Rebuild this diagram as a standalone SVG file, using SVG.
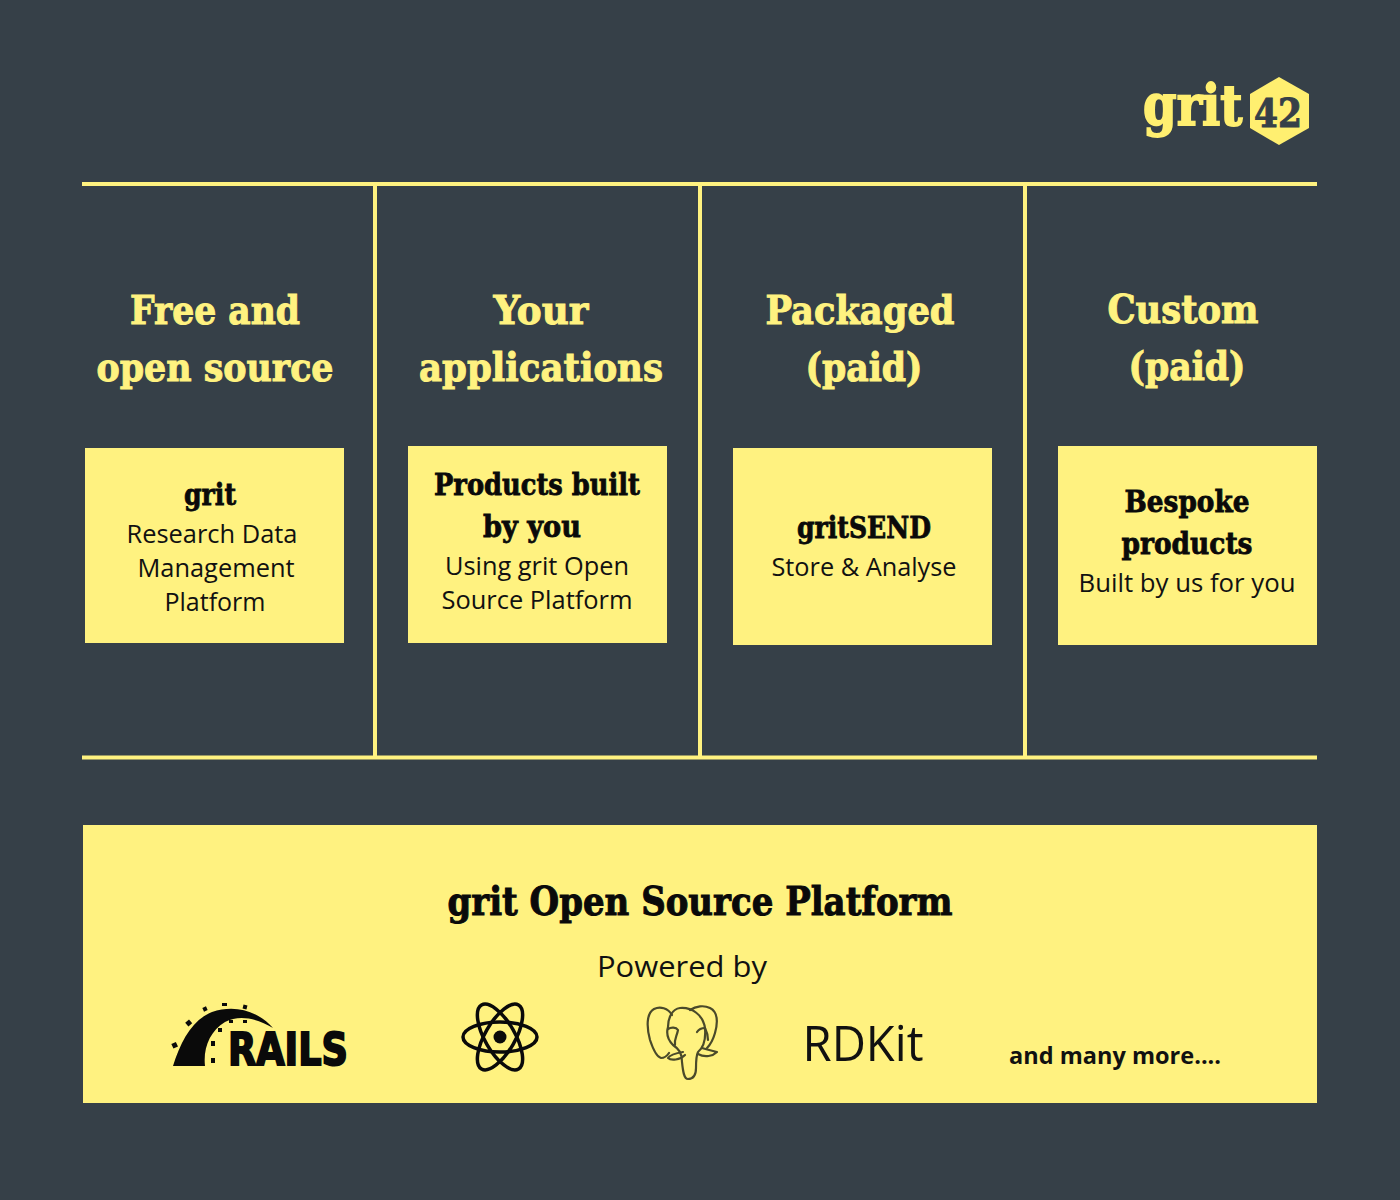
<svg xmlns="http://www.w3.org/2000/svg" width="1400" height="1200" viewBox="0 0 1400 1200">
<style>
.y{fill:#FFF280}
.ln{stroke:#FFF280;stroke-width:4;fill:none}
.h{font-family:"DejaVu Serif","Liberation Serif",serif;font-weight:700;font-size:39px;fill:#FFF280;stroke:#FFF280;stroke-width:1;text-anchor:middle}
.t{font-family:"DejaVu Serif","Liberation Serif",serif;font-weight:700;font-size:29.500px;fill:#0a0a0a;stroke:#0a0a0a;stroke-width:.8;text-anchor:middle}
.b{font-family:"Open Sans","Noto Sans",sans-serif;font-size:25px;fill:#111;text-anchor:middle}
</style>
<rect width="1400" height="1200" fill="#364048"/>
<g id="logo">
<text transform="translate(1143 125) scale(.86 1)" font-family="DejaVu Serif,serif" font-weight="700" font-size="56" fill="#FFEF70" stroke="#FFEF70" stroke-width="1.800">grit</text>
<polygon points="1279,77 1309,94 1309,128 1279,145 1250,128 1250,94" fill="#FFEF70"/>
<text x="1278" y="127" font-family="DejaVu Serif,serif" font-weight="700" font-size="40" fill="#364048" stroke="#364048" stroke-width="1" text-anchor="middle" textLength="48" lengthAdjust="spacingAndGlyphs">42</text>
</g>
<g id="connectors">
<path class="ln" d="M82 184H1317M82 757.500H1317M375 184V757M700 184V757M1025 184V757"/>
</g>
<g id="col-free">
<text class="h" x="215" y="324" textLength="170" lengthAdjust="spacingAndGlyphs">Free and</text>
<text class="h" x="215" y="381" textLength="237" lengthAdjust="spacingAndGlyphs">open source</text>
<rect class="y" x="85" y="448" width="259" height="195"/>
<text class="t" x="210" y="505" textLength="52" lengthAdjust="spacingAndGlyphs">grit</text>
<text class="b" x="212" y="543" textLength="171" lengthAdjust="spacingAndGlyphs">Research Data</text>
<text class="b" x="216" y="577" textLength="157" lengthAdjust="spacingAndGlyphs">Management</text>
<text class="b" x="215" y="611" textLength="101" lengthAdjust="spacingAndGlyphs">Platform</text>
</g>
<g id="col-your">
<text class="h" x="541" y="324" textLength="95" lengthAdjust="spacingAndGlyphs">Your</text>
<text class="h" x="541" y="381" textLength="244" lengthAdjust="spacingAndGlyphs">applications</text>
<rect class="y" x="408" y="446" width="259" height="197"/>
<text class="t" x="537" y="495" textLength="206" lengthAdjust="spacingAndGlyphs">Products built</text>
<text class="t" x="532" y="537" textLength="98" lengthAdjust="spacingAndGlyphs">by you</text>
<text class="b" x="537" y="575" textLength="184" lengthAdjust="spacingAndGlyphs">Using grit Open</text>
<text class="b" x="537" y="609" textLength="191" lengthAdjust="spacingAndGlyphs">Source Platform</text>
</g>
<g id="col-packaged">
<text class="h" x="860" y="324" textLength="189" lengthAdjust="spacingAndGlyphs">Packaged</text>
<text class="h" x="864" y="381" textLength="117" lengthAdjust="spacingAndGlyphs">(paid)</text>
<rect class="y" x="733" y="448" width="259" height="197"/>
<text class="t" x="864" y="538" textLength="134" lengthAdjust="spacingAndGlyphs">gritSEND</text>
<text class="b" x="864" y="576" textLength="185" lengthAdjust="spacingAndGlyphs">Store &amp; Analyse</text>
</g>
<g id="col-custom">
<text class="h" x="1183" y="323" textLength="151" lengthAdjust="spacingAndGlyphs">Custom</text>
<text class="h" x="1187" y="380" textLength="117" lengthAdjust="spacingAndGlyphs">(paid)</text>
<rect class="y" x="1058" y="446" width="259" height="199"/>
<text class="t" x="1187" y="512" textLength="125" lengthAdjust="spacingAndGlyphs">Bespoke</text>
<text class="t" x="1187" y="554" textLength="131" lengthAdjust="spacingAndGlyphs">products</text>
<text class="b" x="1187" y="592" textLength="217" lengthAdjust="spacingAndGlyphs">Built by us for you</text>
</g>
<g id="platform">
<rect class="y" x="83" y="825" width="1234" height="278"/>
<text x="700" y="915" font-family="DejaVu Serif,serif" font-weight="700" font-size="39" fill="#0a0a0a" stroke="#0a0a0a" stroke-width="1" text-anchor="middle" textLength="505" lengthAdjust="spacingAndGlyphs">grit Open Source Platform</text>
<text x="682" y="977" font-family="Open Sans,sans-serif" font-size="30" fill="#111" text-anchor="middle" textLength="170" lengthAdjust="spacingAndGlyphs">Powered by</text>
<text x="863" y="1061" font-family="Open Sans,sans-serif" font-size="49" fill="#111" text-anchor="middle" textLength="121" lengthAdjust="spacingAndGlyphs">RDKit</text>
<text x="1115" y="1064" font-family="Open Sans,sans-serif" font-weight="700" font-size="23" fill="#111" text-anchor="middle" textLength="212" lengthAdjust="spacingAndGlyphs">and many more....</text>
</g>
<g id="rails-logo" fill="#0a0a0a">
<path d="M173 1066C181 1041 192 1020 212 1012C235 1004 258 1011 273 1028C258 1019 240 1014 225 1022C210 1031 203 1048 205 1066Z"/>
<rect x="172" y="1043" width="5" height="5" transform="rotate(-25 174 1045)"/>
<rect x="186" y="1021" width="5" height="5" transform="rotate(-40 188 1023)"/>
<rect x="203" y="1007" width="4" height="4" transform="rotate(-25 205 1009)"/>
<rect x="222" y="1003" width="5" height="3"/>
<rect x="243" y="1005" width="4" height="4" transform="rotate(15 245 1007)"/>
<rect x="211" y="1041" width="4" height="5"/>
<rect x="218" y="1028" width="4" height="4"/>
<rect x="229" y="1020" width="4" height="3"/>
<rect x="243" y="1020" width="4" height="3"/>
<rect x="211" y="1058" width="4" height="5"/>
<text x="228" y="1065" font-family="DejaVu Sans,sans-serif" font-weight="700" font-size="44" stroke="#0a0a0a" stroke-width="2" textLength="120" lengthAdjust="spacingAndGlyphs">RAILS</text>
</g>
<g id="react-logo" fill="none" stroke="#0a0a0a" stroke-width="3.500">
<ellipse cx="500" cy="1037" rx="37" ry="15"/>
<ellipse cx="500" cy="1037" rx="37" ry="15" transform="rotate(60 500 1037)"/>
<ellipse cx="500" cy="1037" rx="37" ry="15" transform="rotate(120 500 1037)"/>
<circle cx="500" cy="1037" r="6.500" fill="#0a0a0a" stroke="none"/>
</g>
<g id="postgres-logo" fill="none" stroke="#4a4a2a" stroke-width="2.200" stroke-linecap="round" stroke-linejoin="round">
<path d="M672 1015C668 1008 660 1006 654 1009C647 1013 646 1025 650 1040C653 1049 657 1057 661 1058C664 1058 667 1056 669 1053"/>
<path d="M690 1010C696 1006 704 1005 710 1008C718 1012 718 1022 715 1033C713 1040 710 1045 707 1048"/>
<path d="M688 1079C693 1079 696 1075 696 1068C696 1062 696 1056 698 1052C703 1048 706 1040 705 1028C703 1015 692 1007 680 1008C672 1009 668 1018 668 1027C666 1034 668 1040 673 1045C679 1049 682 1053 682 1062C683 1072 684 1079 688 1079Z"/>
<path d="M683 1052C677 1053 670 1055 668 1058C671 1061 680 1060 685 1055"/>
<path d="M702 1048C708 1050 713 1051 717 1052C713 1056 705 1058 698 1054"/>
<path d="M668 1029C671 1027 676 1027 678 1030C677 1036 674 1039 675 1045"/>
<path d="M697 1032C699 1029 702 1028 705 1028C707 1032 708 1036 708 1040"/>
</g>
</svg>
